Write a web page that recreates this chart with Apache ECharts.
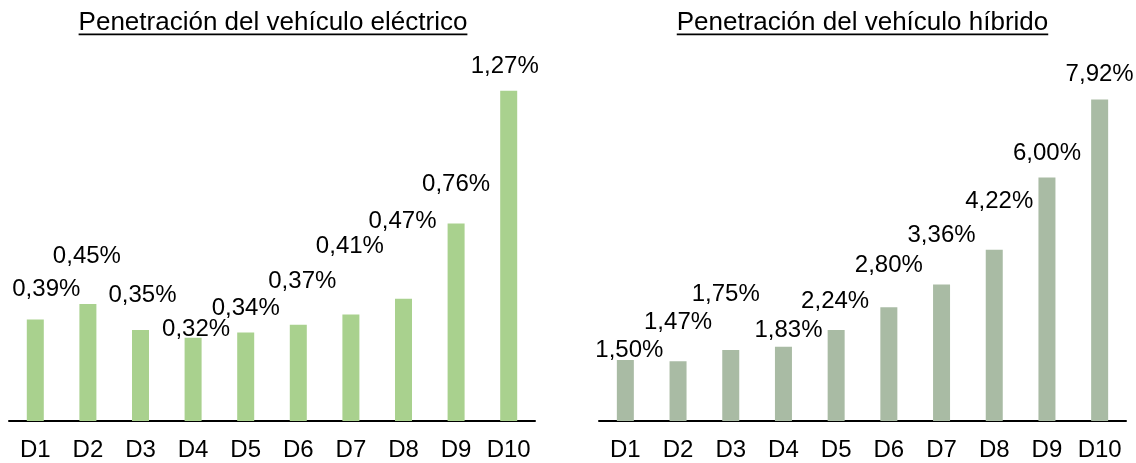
<!DOCTYPE html>
<html>
<head>
<meta charset="utf-8">
<style>
  html, body { margin: 0; padding: 0; background: #ffffff; }
  #chart { width: 1136px; height: 463px; }
</style>
<script src="https://cdn.jsdelivr.net/npm/echarts@6/dist/echarts.min.js"></script>
</head>
<body>
<div id="chart"></div>
<script>
// Deciles and penetration shares (%)
const deciles = ['D1', 'D2', 'D3', 'D4', 'D5', 'D6', 'D7', 'D8', 'D9', 'D10'];
const electricShare = [0.39, 0.45, 0.35, 0.32, 0.34, 0.37, 0.41, 0.47, 0.76, 1.27];
const hybridShare = [1.50, 1.47, 1.75, 1.83, 2.24, 2.80, 3.36, 4.22, 6.00, 7.92];

const electricTitle = 'Penetración del vehículo eléctrico';
const hybridTitle = 'Penetración del vehículo híbrido';

// Hand-placed value labels: [horizontal shift, gap above the bar top] in px
const electricLabelPlace = [[11, 22], [-1, 40], [2, 27], [3, 0], [0, 16], [4, 35], [-1, 60], [-1, 69], [0, 31], [-4, 16]];
const hybridLabelPlace = [[4, 2], [0, 31], [-5, 48], [5, 8], [-1, 21], [0, 34], [0, 41], [5, 40], [0, 16], [0, 17]];

const FONT = '"Liberation Sans", Arial, Helvetica, sans-serif';
const BASE_SHIFT = 4; // distance from label box bottom to text baseline

function pct(v) {
  return v.toFixed(2).replace('.', ',') + '%';
}

function seriesData(values, place) {
  return values.map((v, i) => ({
    value: v,
    label: { offset: [place[i][0], BASE_SHIFT - place[i][1]] }
  }));
}

function textWidth(text, font) {
  const ctx = document.createElement('canvas').getContext('2d');
  ctx.font = font;
  return ctx.measureText(text).width;
}

const titleFont = '26px ' + FONT;
const panels = [
  { title: electricTitle, cx: 273 },
  { title: hybridTitle, cx: 862.5 }
];

const graphics = [];
panels.forEach(p => {
  const w = textWidth(p.title, titleFont);
  graphics.push({
    type: 'text',
    style: {
      text: p.title, x: p.cx, y: 10, align: 'center', verticalAlign: 'top',
      font: titleFont, fill: '#000000'
    }
  });
  graphics.push({
    type: 'line',
    shape: { x1: p.cx - w / 2, y1: 34.3, x2: p.cx + w / 2, y2: 34.3 },
    style: { stroke: '#000000', lineWidth: 1.7 }
  });
});

const axisCommon = {
  type: 'category',
  data: deciles,
  axisLine: { lineStyle: { color: '#000000', width: 2 } },
  axisTick: { show: false },
  axisLabel: { color: '#000000', fontSize: 24, fontFamily: FONT, margin: 17, interval: 0 }
};

const valueCommon = {
  type: 'value',
  min: 0,
  show: false,
  splitLine: { show: false }
};

const labelCommon = {
  show: true,
  position: 'top',
  distance: 0,
  color: '#000000',
  fontSize: 24,
  fontFamily: FONT,
  formatter: p => pct(p.value)
};

const chart = echarts.init(document.getElementById('chart'), null, { renderer: 'canvas' });
chart.setOption({
  animation: false,
  backgroundColor: '#ffffff',
  grid: [
    { left: 9, right: 601, top: 31, bottom: 42 },
    { left: 599, right: 10, top: 55.6, bottom: 42 }
  ],
  xAxis: [
    Object.assign({ gridIndex: 0 }, axisCommon),
    Object.assign({ gridIndex: 1 }, axisCommon)
  ],
  yAxis: [
    Object.assign({ gridIndex: 0, max: 1.5 }, valueCommon),
    Object.assign({ gridIndex: 1, max: 9 }, valueCommon)
  ],
  series: [
    {
      name: electricTitle,
      type: 'bar',
      xAxisIndex: 0,
      yAxisIndex: 0,
      barWidth: 17,
      itemStyle: { color: '#A9D18E' },
      label: labelCommon,
      data: seriesData(electricShare, electricLabelPlace)
    },
    {
      name: hybridTitle,
      type: 'bar',
      xAxisIndex: 1,
      yAxisIndex: 1,
      barWidth: 17,
      itemStyle: { color: '#A9BBA4' },
      label: labelCommon,
      data: seriesData(hybridShare, hybridLabelPlace)
    }
  ],
  graphic: graphics
});
</script>
</body>
</html>
